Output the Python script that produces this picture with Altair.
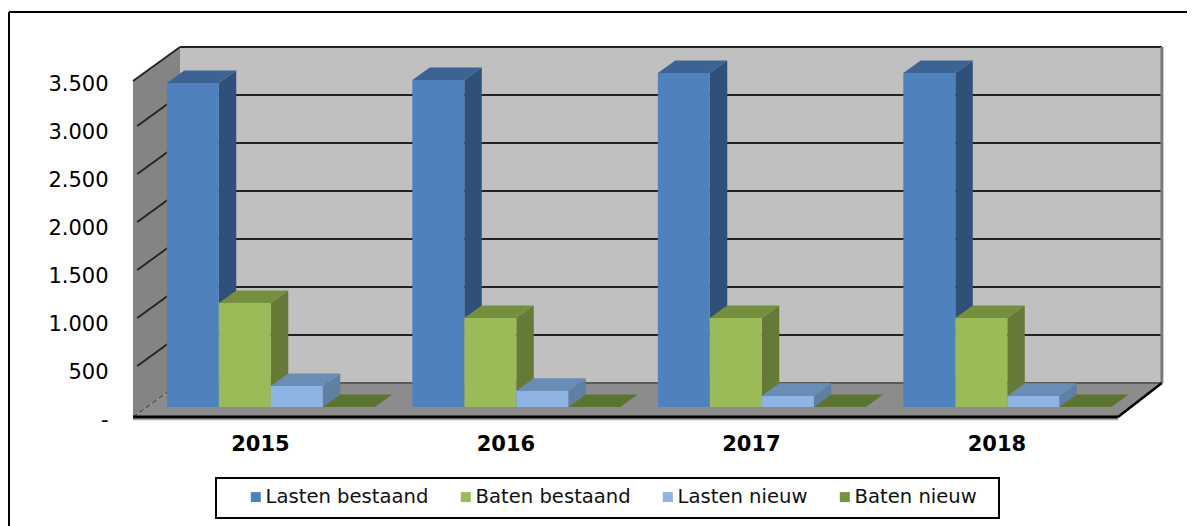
import altair as alt

years = [2015, 2016, 2017, 2018]
series = ["Lasten bestaand", "Baten bestaand", "Lasten nieuw", "Baten nieuw"]
lasten_bestaand = [3375, 3406, 3479, 3479]
baten_bestaand = [1083, 927, 927, 927]
lasten_nieuw = [219, 167, 115, 115]
baten_nieuw = [0, 0, 0, 0]
all_values = [lasten_bestaand, baten_bestaand, lasten_nieuw, baten_nieuw]
front_colors = ["#4F81BD", "#9BBB59", "#8DB4E2", "#76923C"]
top_colors = ["#3B6494", "#74903F", "#6A8DB5", "#5A7530"]
side_colors = ["#2F5079", "#657A37", "#5F7FA3", "#5A7530"]
ticks = [0, 500, 1000, 1500, 2000, 2500, 3000, 3500]

# depth projection, in data units of the two scales
DX = 0.1915   # x shift of the full chart depth
DY = 354.0    # y shift of the full chart depth
BAR_D0, BAR_D1 = 0.294, 0.665
GAP, BAR_W = 0.0815, 0.2118
RIGHT_FRONT, RIGHT_BACK = 4.012, 4.191
TOP = 3500


def sx(d):
    return DX * d


def sy(d):
    return DY * d


x_axis = alt.Axis(
    values=[0.517, 1.517, 2.517, 3.517],
    labelExpr="format(2015 + floor(datum.value), 'd')",
    title=None, domain=False, ticks=False, grid=False,
    labelFont="DejaVu Sans", labelFontSize=21, labelFontWeight="bold",
    labelColor="black", labelPadding=16,
)
y_axis = alt.Axis(
    values=ticks,
    labelExpr="datum.value == 0 ? '-' : replace(format(datum.value, ','), ',', '.')",
    title=None, domain=False, ticks=False, grid=False,
    labelFont="DejaVu Sans", labelFontSize=21, labelColor="black",
    labelPadding=25, labelOffset=3,
)
x_scale = alt.Scale(domain=[0, 4], range=[0, 982], nice=False, zero=False)
y_scale = alt.Scale(domain=[0, 3500], range=[336, 0], nice=False, zero=False)


def X(f="x"):
    return alt.X(f"{f}:Q", scale=x_scale, axis=x_axis)


def Y(f="y"):
    return alt.Y(f"{f}:Q", scale=y_scale, axis=y_axis, stack=None)


def df(rows):
    return alt.Data(values=rows)


def vertical_area(rows, color):
    return alt.Chart(df(rows)).mark_area(orient="vertical", color=color, opacity=1).encode(
        x=X(), y=Y(), y2=alt.Y2("y2:Q"), detail="id:N")


def horizontal_area(rows, color):
    return alt.Chart(df(rows)).mark_area(orient="horizontal", color=color, opacity=1).encode(
        y=Y(), x=X(), x2=alt.X2("x2:Q"), detail="id:N")


def rules(rows, color, width, **kw):
    return alt.Chart(df(rows)).mark_rule(color=color, strokeWidth=width, **kw).encode(
        x=X(), x2=alt.X2("x2:Q"), y=Y(), y2=alt.Y2("y2:Q"))


layers = []

# outer frame of the picture
layers.append(alt.Chart(df([{"a": 1}])).mark_rule(color="black", strokeWidth=2).encode(
    x=alt.value(-124), y=alt.value(-69), y2=alt.value(445)))
layers.append(alt.Chart(df([{"a": 1}])).mark_rule(color="black", strokeWidth=2).encode(
    x=alt.value(-124), x2=alt.value(1062), y=alt.value(-69)))

# legend frame
layers.append(alt.Chart(df([{"a": 1}])).mark_rect(fill="white", stroke="black", strokeWidth=2, opacity=1).encode(
    x=alt.value(83), x2=alt.value(866), y=alt.value(397), y2=alt.value(437)))

# left wall, back wall, floor
layers.append(vertical_area([
    {"id": 0, "x": 0, "y": 0, "y2": TOP},
    {"id": 0, "x": sx(1), "y": sy(1), "y2": TOP + sy(1)},
], "#848484"))
layers.append(alt.Chart(df([{"x": sx(1), "x2": RIGHT_BACK, "y": sy(1), "y2": TOP + sy(1)}]))
              .mark_rect(color="#C0C0C0", opacity=1)
              .encode(x=X(), x2=alt.X2("x2:Q"), y=Y(), y2=alt.Y2("y2:Q")))
layers.append(horizontal_area([
    {"id": 0, "y": 0, "x": 0, "x2": RIGHT_FRONT},
    {"id": 0, "y": sy(1), "x": sx(1), "x2": RIGHT_BACK},
], "#8C8C8C"))

# grid on the back wall and the left wall
layers.append(rules([{"x": sx(1), "x2": RIGHT_BACK, "y": t + sy(1), "y2": t + sy(1)}
                     for t in ticks[1:]], "#222222", 2))
layers.append(rules([{"x": sx(1), "x2": RIGHT_BACK, "y": sy(1), "y2": sy(1)}], "#5A5A5A", 2))
layers.append(rules([{"x": sx(0.09), "x2": sx(1), "y": t + sy(0.09), "y2": t + sy(1)}
                     for t in ticks[1:-1]], "#222222", 1.8))
layers.append(rules([{"x": 0, "x2": sx(1), "y": TOP, "y2": TOP + sy(1)}], "#222222", 1.8))
layers.append(rules([{"x": 0, "x2": sx(1), "y": 0, "y2": sy(1)}], "#333333", 1, strokeDash=[5, 3]))
layers.append(rules([{"x": RIGHT_BACK, "x2": RIGHT_BACK, "y": sy(1), "y2": TOP + sy(1)}], "#7A7A7A", 3))

# front edge of the floor
layers.append(rules([{"x": 0, "x2": RIGHT_FRONT, "y": -24, "y2": -24}], "#A6A6A6", 2))
layers.append(rules([{"x": 0, "x2": RIGHT_FRONT, "y": 0, "y2": 0}], "black", 3))
layers.append(rules([{"x": RIGHT_FRONT, "x2": RIGHT_BACK, "y": 0, "y2": sy(1)}], "black", 2.5))

# bars, series by series from left to right
for j, name in enumerate(series):
    side_rows, top_rows, front_rows = [], [], []
    for i, year in enumerate(years):
        v = all_values[j][i]
        x0 = i + GAP + j * BAR_W
        x1 = x0 + BAR_W
        for d in (BAR_D0, BAR_D1):
            side_rows.append({"id": year, "x": x1 + sx(d), "y": sy(d), "y2": v + sy(d)})
            top_rows.append({"id": year, "y": v + sy(d), "x": x0 + sx(d), "x2": x1 + sx(d)})
        front_rows.append({"series": name, "x": x0 + sx(BAR_D0), "x2": x1 + sx(BAR_D0),
                           "y": sy(BAR_D0), "y2": v + sy(BAR_D0)})
    if max(all_values[j]) > 0:
        layers.append(vertical_area(side_rows, side_colors[j]))
    layers.append(horizontal_area(top_rows, top_colors[j]))
    layers.append(alt.Chart(df(front_rows)).mark_rect(opacity=1).encode(
        x=X(), x2=alt.X2("x2:Q"), y=Y(), y2=alt.Y2("y2:Q"),
        fill=alt.Fill("series:N",
                      scale=alt.Scale(domain=series, range=front_colors),
                      legend=alt.Legend(
                          orient="none", legendX=113, legendY=406, direction="horizontal",
                          columns=4, columnPadding=27, padding=0, title=None,
                          symbolType="square", symbolSize=100, symbolStrokeWidth=0,
                          labelFont="DejaVu Sans", labelFontSize=19.6, labelColor="#111111",
                          labelOffset=0, labelLimit=300, zindex=1))))

chart = alt.layer(*layers).properties(
    width=982, height=336,
    padding={"left": 125, "top": 73, "right": 72, "bottom": 109},
    autosize=alt.AutoSizeParams(type="none"),
    background="white",
).configure_view(stroke=None)

chart.save("out.html", embed_options={"renderer": "svg", "actions": False})
